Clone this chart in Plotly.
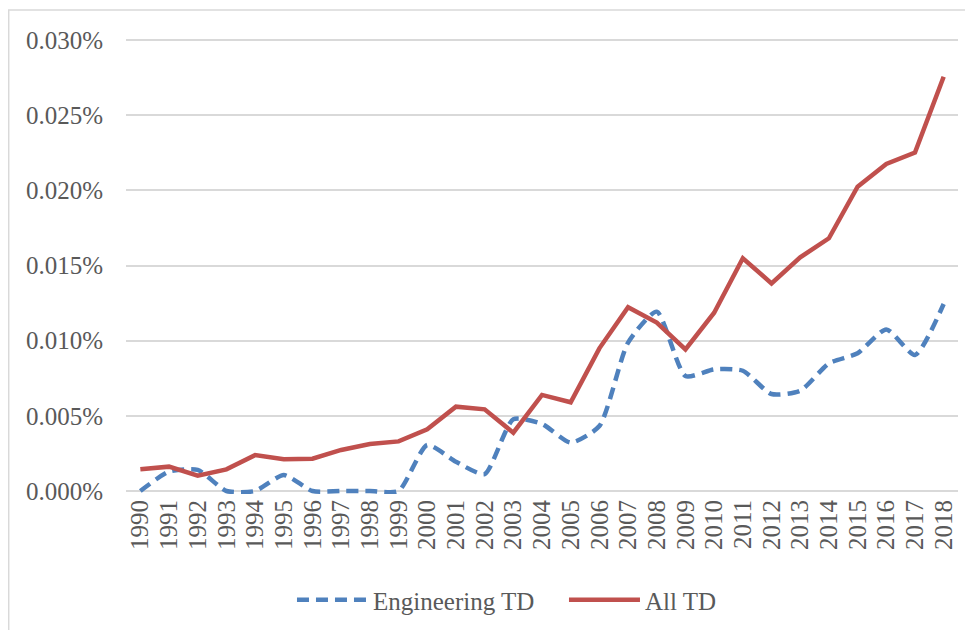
import plotly.graph_objects as go

years = [str(y) for y in range(1990, 2019)]
# values in percent units (0.0275 means 0.0275%)
engineering_td = [0.0, 0.00129, 0.0014, 0.0, 0.0, 0.00106, 0.0, 0.0, 0.0, 0.0,
                  0.00306, 0.00195, 0.00113, 0.00477, 0.00446, 0.00322, 0.00432, 0.00987, 0.01193, 0.00765,
                  0.00809, 0.0080, 0.00645, 0.00667, 0.00849, 0.00916, 0.01075, 0.00905, 0.01244]
all_td = [0.00144, 0.00162, 0.00102, 0.00144, 0.00239, 0.00211, 0.00215, 0.00273, 0.00313, 0.0033,
          0.0041, 0.00561, 0.00543, 0.00388, 0.00639, 0.0059, 0.00949, 0.01222, 0.0112, 0.00942,
          0.01186, 0.01548, 0.01381, 0.01554, 0.01681, 0.02024, 0.02175, 0.02251, 0.02756]
y_ticks = [0, 0.005, 0.01, 0.015, 0.02, 0.025, 0.03]
y_ticktext = [f"{v:.3f}%" for v in y_ticks]

FONT = "Liberation Serif"
GRID = "#d9d9d9"
TXT = "#595959"
FS = 25

fig = go.Figure()
fig.add_trace(go.Scatter(
    x=years, y=engineering_td, name="Engineering TD", mode="lines",
    line=dict(color="#4F81BD", width=4.5, dash="12px,7px", shape="spline", smoothing=0.6),
))
fig.add_trace(go.Scatter(
    x=years, y=all_td, name="All TD", mode="lines",
    line=dict(color="#C0504D", width=4.5),
))

fig.update_layout(
    width=973, height=630,
    margin=dict(l=118, r=23, t=29, b=144, autoexpand=False),
    paper_bgcolor="white", plot_bgcolor="white",
    font=dict(family=FONT, size=FS, color=TXT),
    showlegend=True,
    legend=dict(orientation="h", x=0.1995, xanchor="left", y=-0.232, yanchor="middle",
                font=dict(family=FONT, size=FS, color=TXT), itemwidth=71,
                entrywidth=186, entrywidthmode="pixels",
                bgcolor="rgba(0,0,0,0)"),
    shapes=[dict(type="rect", xref="paper", yref="paper", x0=-0.141, x1=1.05, y0=-0.36, y1=1.059,
                 line=dict(color=GRID, width=1.5), fillcolor="rgba(0,0,0,0)", layer="below")],
)
fig.update_xaxes(type="category", tickangle=-90, showgrid=False, showline=False, ticks="",
                 tickmode="array", tickvals=years, ticktext=years, automargin=False,
                 tickfont=dict(family=FONT, size=FS, color=TXT), range=[-0.5, 28.5])
fig.update_yaxes(range=[-0.0002, 0.0302], tickmode="array", tickvals=y_ticks, ticktext=y_ticktext,
                 showgrid=True, gridcolor=GRID, gridwidth=1.5, zeroline=False, showline=False,
                 ticks="", ticklabelstandoff=22, automargin=False,
                 tickfont=dict(family=FONT, size=FS, color=TXT))

fig.write_html("out.html")
